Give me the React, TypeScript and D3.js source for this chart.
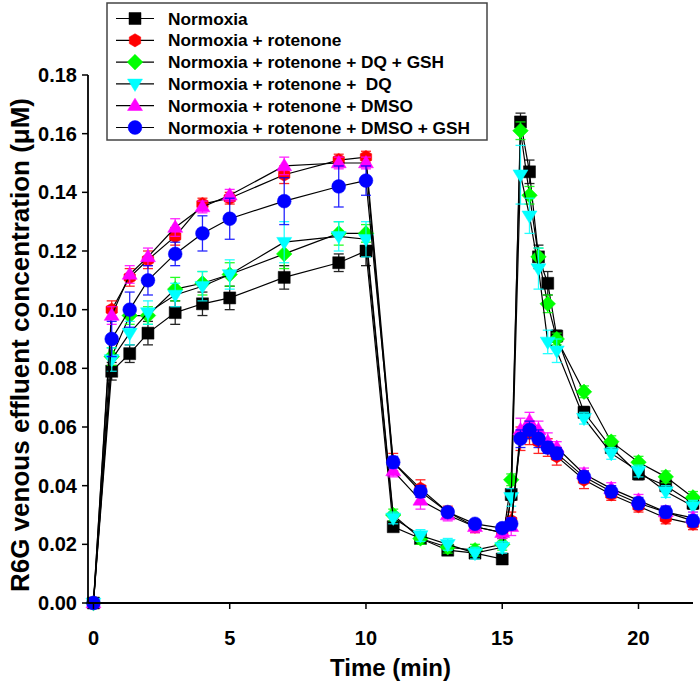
import React from "react";
import * as d3 from "d3";

const times = [0, 0.67, 1.33, 2, 3, 4, 5, 7, 9, 10, 11, 12, 13, 14, 15, 15.33, 15.67, 16, 16.33, 16.67, 17, 18, 19, 20, 21, 22];

const normoxia = [0, 0.079, 0.085, 0.092, 0.099, 0.102, 0.104, 0.111, 0.116, 0.120, 0.026, 0.022, 0.018, 0.017, 0.015, 0.037, 0.164, 0.147, 0.118, 0.109, 0.091, 0.065, 0.053, 0.044, 0.040, 0.034];
const normoxiaErr = [0, 0.003, 0.003, 0.004, 0.004, 0.004, 0.004, 0.004, 0.003, 0.005, 0.001, 0.001, 0.001, 0.001, 0.001, 0.002, 0.003, 0.004, 0.004, 0.004, 0.002, 0.002, 0.002, 0.002, 0.002, 0.002];

const rotenone = [0, 0.100, 0.111, 0.117, 0.125, 0.136, 0.138, 0.146, 0.151, 0.152, 0.048, 0.039, 0.031, 0.026, 0.024, 0.028, 0.056, 0.058, 0.055, 0.053, 0.050, 0.042, 0.037, 0.033, 0.029, 0.027];
const rotenoneErr = [0, 0.003, 0.003, 0.003, 0.003, 0.002, 0.002, 0.003, 0.002, 0.002, 0.003, 0.003, 0.002, 0.002, 0.002, 0.003, 0.004, 0.004, 0.004, 0.003, 0.003, 0.003, 0.002, 0.002, 0.002, 0.002];

const dqGsh = [0, 0.084, 0.098, 0.098, 0.107, 0.109, 0.112, 0.119, 0.126, 0.126, 0.030, 0.022, 0.019, 0.018, 0.020, 0.042, 0.161, 0.139, 0.118, 0.102, 0.090, 0.072, 0.055, 0.048, 0.043, 0.036];
const dqGshErr = [0, 0.003, 0.003, 0.003, 0.004, 0.004, 0.004, 0.005, 0.004, 0.003, 0.002, 0.002, 0.002, 0.002, 0.002, 0.002, 0.003, 0.003, 0.003, 0.003, 0.002, 0.002, 0.002, 0.002, 0.002, 0.002];

const dq = [0, 0.083, 0.092, 0.099, 0.105, 0.108, 0.112, 0.123, 0.125, 0.124, 0.029, 0.023, 0.020, 0.017, 0.019, 0.036, 0.146, 0.132, 0.114, 0.089, 0.086, 0.063, 0.051, 0.045, 0.038, 0.033];
const dqErr = [0, 0.004, 0.004, 0.004, 0.004, 0.005, 0.005, 0.007, 0.005, 0.006, 0.002, 0.002, 0.002, 0.002, 0.002, 0.003, 0.010, 0.006, 0.007, 0.004, 0.004, 0.002, 0.002, 0.002, 0.002, 0.002];

const dmso = [0, 0.098, 0.112, 0.118, 0.128, 0.135, 0.139, 0.149, 0.150, 0.150, 0.045, 0.035, 0.030, 0.026, 0.024, 0.026, 0.059, 0.062, 0.059, 0.055, 0.053, 0.044, 0.039, 0.035, 0.031, 0.029];
const dmsoErr = [0, 0.003, 0.003, 0.003, 0.003, 0.002, 0.002, 0.003, 0.002, 0.002, 0.002, 0.003, 0.002, 0.002, 0.002, 0.003, 0.004, 0.003, 0.003, 0.003, 0.002, 0.002, 0.002, 0.002, 0.002, 0.002];

const dmsoGsh = [0, 0.090, 0.100, 0.110, 0.119, 0.126, 0.131, 0.137, 0.142, 0.144, 0.048, 0.038, 0.031, 0.027, 0.0255, 0.027, 0.056, 0.059, 0.056, 0.053, 0.051, 0.043, 0.038, 0.034, 0.031, 0.028];
const dmsoGshErr = [0, 0.006, 0.006, 0.005, 0.004, 0.006, 0.007, 0.008, 0.007, 0.005, 0.002, 0.002, 0.001, 0.001, 0.001, 0.002, 0.003, 0.003, 0.003, 0.002, 0.002, 0.002, 0.002, 0.002, 0.002, 0.002];

const seriesNames = [
  "Normoxia",
  "Normoxia + rotenone",
  "Normoxia + rotenone + DQ + GSH",
  "Normoxia + rotenone +  DQ",
  "Normoxia + rotenone + DMSO",
  "Normoxia + rotenone + DMSO + GSH",
];
const seriesValues = [normoxia, rotenone, dqGsh, dq, dmso, dmsoGsh];
const seriesErrors = [normoxiaErr, rotenoneErr, dqGshErr, dqErr, dmsoErr, dmsoGshErr];
const seriesColors = ["#000000", "#ff0000", "#00ff00", "#00ffff", "#ff00ff", "#0000ff"];
const seriesShapes = ["square", "hexagon", "diamond", "triangleDown", "triangleUp", "circle"];

const xTicks = [0, 5, 10, 15, 20];
const yTicks = [0, 0.02, 0.04, 0.06, 0.08, 0.1, 0.12, 0.14, 0.16, 0.18];

const FONT = "'Liberation Sans', Arial, sans-serif";

function markerPath(shape: string, r: number): string {
  switch (shape) {
    case "square":
      return `M${-r},${-r}H${r}V${r}H${-r}Z`;
    case "hexagon": {
      const pts = d3.range(6).map((i) => {
        const a = (Math.PI / 3) * i + Math.PI / 6;
        return [r * 1.1 * Math.cos(a), r * 1.1 * Math.sin(a)];
      });
      return "M" + pts.map((p) => p.join(",")).join("L") + "Z";
    }
    case "diamond": {
      const d = r * 1.3;
      return `M0,${-d}L${d},0L0,${d}L${-d},0Z`;
    }
    case "triangleDown": {
      const w = r * 1.25;
      return `M${-w},${-r * 0.8}L${w},${-r * 0.8}L0,${r * 1.25}Z`;
    }
    case "triangleUp": {
      const w = r * 1.25;
      return `M${-w},${r * 0.8}L${w},${r * 0.8}L0,${-r * 1.25}Z`;
    }
    default:
      return d3.symbol(d3.symbolCircle, Math.PI * (r * 1.15) * (r * 1.15))() || "";
  }
}

export default function App() {
  const width = 700;
  const height = 683;
  const left = 88;
  const right = 693;
  const top = 75;
  const bottom = 603;

  const x = d3.scaleLinear().domain([-0.2, 22]).range([left, right]);
  const y = d3.scaleLinear().domain([0, 0.18]).range([bottom, top]);
  const line = d3
    .line<number>()
    .x((_, i) => x(times[i]))
    .y((d) => y(d));

  const fmt = d3.format(".2f");
  const R = 6;

  const legX = 107;
  const legY = 3;
  const legRow = 21.8;

  return (
    <svg width={width} height={height} style={{ display: "block", position: "absolute", left: 0, top: 0 }}>
      <rect x={0} y={0} width={width} height={height} fill="#fff" />
      {seriesValues.map((vals, s) => (
        <g key={s}>
          <path d={line(vals) || ""} fill="none" stroke="#000" strokeWidth={1.2} />
          {vals.map((v, i) => {
            const e = seriesErrors[s][i];
            if (!e) return null;
            const cx = x(times[i]);
            return (
              <g key={i} stroke={seriesColors[s]} strokeWidth={1.3} opacity={0.85}>
                <line x1={cx} x2={cx} y1={y(v - e)} y2={y(v + e)} />
                <line x1={cx - 5} x2={cx + 5} y1={y(v - e)} y2={y(v - e)} />
                <line x1={cx - 5} x2={cx + 5} y1={y(v + e)} y2={y(v + e)} />
              </g>
            );
          })}
          {vals.map((v, i) => (
            <path
              key={"m" + i}
              d={markerPath(seriesShapes[s], R)}
              transform={`translate(${x(times[i])},${y(v)})`}
              fill={seriesColors[s]}
              stroke={seriesColors[s]}
              strokeWidth={0.5}
            />
          ))}
        </g>
      ))}

      <line x1={left} x2={left} y1={top} y2={bottom} stroke="#000" strokeWidth={1.8} />
      <line x1={left} x2={right} y1={bottom} y2={bottom} stroke="#000" strokeWidth={1.8} />
      {yTicks.map((t) => (
        <g key={"y" + t}>
          <line x1={left - 6} x2={left} y1={y(t)} y2={y(t)} stroke="#000" strokeWidth={1.5} />
          <text x={left - 11} y={y(t) + 7} textAnchor="end" fontFamily={FONT} fontWeight="bold" fontSize={20}>
            {fmt(t)}
          </text>
        </g>
      ))}
      {xTicks.map((t) => (
        <g key={"x" + t}>
          <line x1={x(t)} x2={x(t)} y1={bottom} y2={bottom + 6} stroke="#000" strokeWidth={1.5} />
          <text x={x(t)} y={bottom + 42} textAnchor="middle" fontFamily={FONT} fontWeight="bold" fontSize={20}>
            {t}
          </text>
        </g>
      ))}
      <text x={(left + right) / 2} y={676} textAnchor="middle" fontFamily={FONT} fontWeight="bold" fontSize={24}>
        Time (min)
      </text>
      <text
        transform={`translate(29, ${(top + bottom) / 2 + 6}) rotate(-90)`}
        textAnchor="middle"
        fontFamily={FONT}
        fontWeight="bold"
        fontSize={26}
      >
        R6G venous effluent concentration (μM)
      </text>

      <rect x={legX} y={legY} width={380} height={137} fill="#fff" stroke="#444" strokeWidth={1.5} />
      {seriesNames.map((name, s) => {
        const cy = legY + 15.5 + s * legRow;
        return (
          <g key={"l" + s}>
            <line x1={116} x2={154} y1={cy} y2={cy} stroke="#000" strokeWidth={1.2} />
            <path
              d={markerPath(seriesShapes[s], R)}
              transform={`translate(135,${cy})`}
              fill={seriesColors[s]}
              stroke={seriesColors[s]}
              strokeWidth={0.5}
            />
            <text
              x={168}
              y={cy + 6}
              fontFamily={FONT}
              fontWeight="bold"
              fontSize={17.3}
              style={{ whiteSpace: "pre" }}
            >
              {name}
            </text>
          </g>
        );
      })}
    </svg>
  );
}
